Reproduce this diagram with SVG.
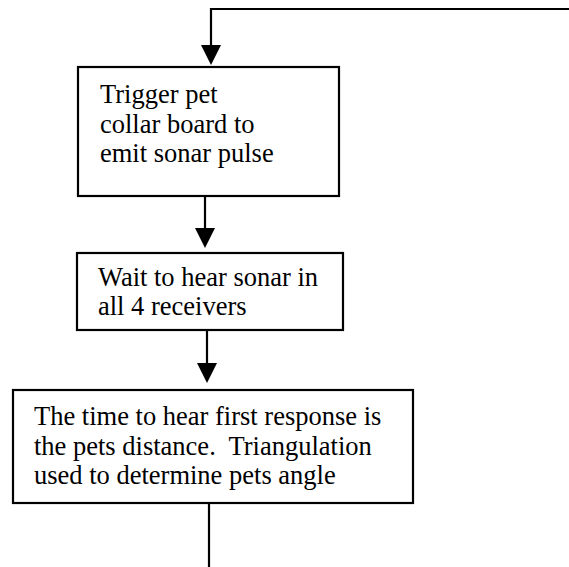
<svg xmlns="http://www.w3.org/2000/svg" width="569" height="567" viewBox="0 0 569 567">
<style>
.box{fill:#fff;stroke:#000;stroke-width:2.2}
.ln{fill:none;stroke:#000;stroke-width:2.2}
.hd{fill:#000;stroke:none}
text{font-family:"Liberation Serif","Times New Roman",serif;font-size:26.5px;fill:#000}
</style>
<rect width="569" height="567" fill="#fff"/>
<g id="connectors">
<polyline class="ln" points="569,9 211,9 211,46"/>
<polygon class="hd" points="201,45 221,45 211,65"/>
<line class="ln" x1="205" y1="196" x2="205" y2="229"/>
<polygon class="hd" points="195,228 215,228 205,248"/>
<line class="ln" x1="207" y1="330" x2="207" y2="364"/>
<polygon class="hd" points="197,363 217,363 207,383"/>
<line class="ln" x1="209" y1="503" x2="209" y2="567"/>
</g>
<g id="node1">
<rect class="box" x="78" y="67" width="261" height="129"/>
<text x="100" y="103">Trigger pet</text>
<text x="100" y="132.5">collar board to</text>
<text x="100" y="161.5">emit sonar pulse</text>
</g>
<g id="node2">
<rect class="box" x="77" y="253" width="266" height="77"/>
<text x="98" y="286">Wait to hear sonar in</text>
<text x="98" y="315">all 4 receivers</text>
</g>
<g id="node3">
<rect class="box" x="13" y="390" width="400" height="113"/>
<text x="34" y="425">The time to hear first response is</text>
<text x="34" y="455" xml:space="preserve">the pets distance.  Triangulation</text>
<text x="34" y="484">used to determine pets angle</text>
</g>
</svg>
